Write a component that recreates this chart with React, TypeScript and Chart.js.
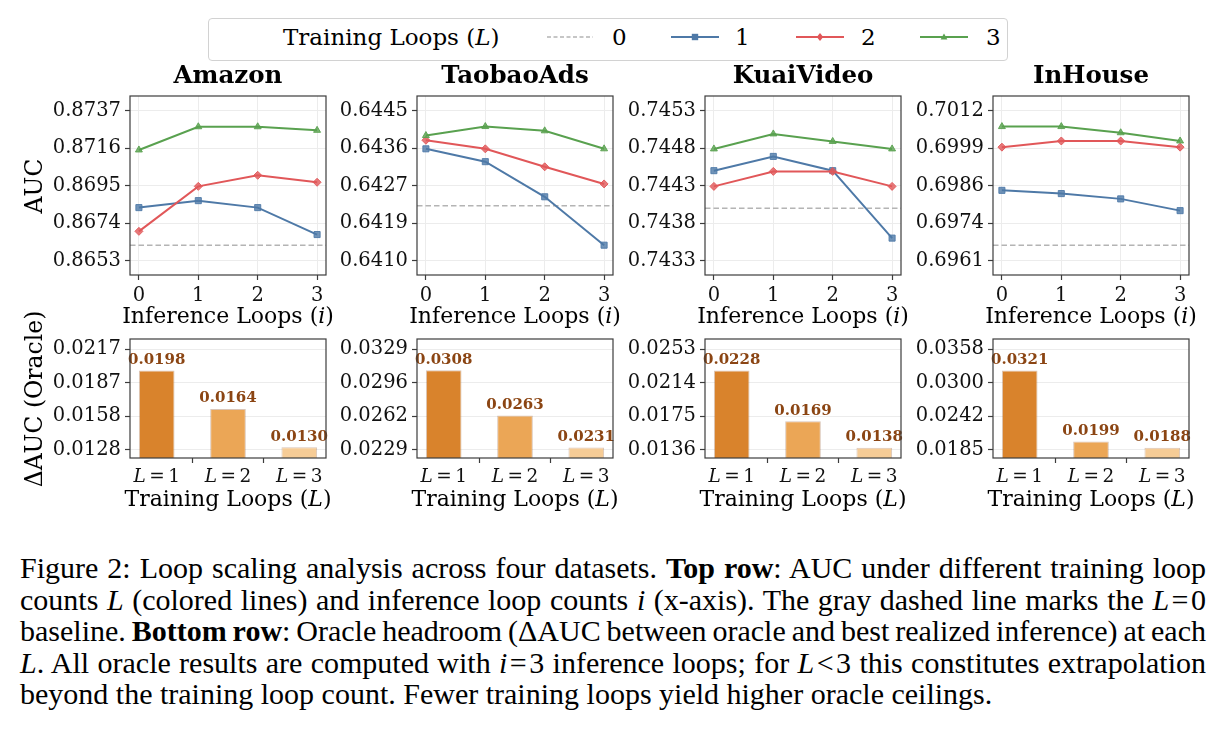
import React, { useEffect, useRef } from "react";
import { Chart, registerables } from "chart.js";

Chart.register(...registerables);

const SERIF = "'DejaVu Serif', serif";
const CAPTION_FONT = "'Liberation Serif', 'Times New Roman', serif";
Chart.defaults.font.family = SERIF;

// ---------------------------------------------------------------- data
const datasetNames = ["Amazon", "TaobaoAds", "KuaiVideo", "InHouse"];
const inferenceLoops = [0, 1, 2, 3];
const trainingLoopLabels = ["1", "2", "3"];

// AUC for inference loops i = 0..3, one array per training-loop count L
const amazonL1 = [0.86827, 0.86866, 0.86827, 0.86676];
const amazonL2 = [0.86694, 0.86946, 0.87008, 0.86969];
const amazonL3 = [0.8715, 0.8728, 0.8728, 0.8726];
const taobaoL1 = [0.64361, 0.64331, 0.64249, 0.64136];
const taobaoL2 = [0.64381, 0.64361, 0.64319, 0.64279];
const taobaoL3 = [0.64392, 0.64413, 0.64403, 0.64361];
const kuaiL1 = [0.7445, 0.74469, 0.7445, 0.7436];
const kuaiL2 = [0.74429, 0.74449, 0.74449, 0.74429];
const kuaiL3 = [0.74479, 0.74499, 0.74489, 0.74479];
const inhouseL1 = [0.69849, 0.69838, 0.6982, 0.6978];
const inhouseL2 = [0.69996, 0.70017, 0.70017, 0.69996];
const inhouseL3 = [0.70066, 0.70066, 0.70045, 0.70017];

// L = 0 baseline AUC per dataset
const baselineAuc = [0.86616, 0.64228, 0.744, 0.69662];

// Oracle headroom (ΔAUC) for L = 1, 2, 3
const amazonOracle = [0.0198, 0.0164, 0.013];
const taobaoOracle = [0.0308, 0.0263, 0.0231];
const kuaiOracle = [0.0228, 0.0169, 0.0138];
const inhouseOracle = [0.0321, 0.0199, 0.0188];

// y tick labels
const amazonAucTicks = ["0.8653", "0.8674", "0.8695", "0.8716", "0.8737"];
const taobaoAucTicks = ["0.6410", "0.6419", "0.6427", "0.6436", "0.6445"];
const kuaiAucTicks = ["0.7433", "0.7438", "0.7443", "0.7448", "0.7453"];
const inhouseAucTicks = ["0.6961", "0.6974", "0.6986", "0.6999", "0.7012"];
const amazonOracleTicks = ["0.0128", "0.0158", "0.0187", "0.0217"];
const taobaoOracleTicks = ["0.0229", "0.0262", "0.0296", "0.0329"];
const kuaiOracleTicks = ["0.0136", "0.0175", "0.0214", "0.0253"];
const inhouseOracleTicks = ["0.0185", "0.0242", "0.0300", "0.0358"];

const aucSeries = [
  [amazonL1, amazonL2, amazonL3],
  [taobaoL1, taobaoL2, taobaoL3],
  [kuaiL1, kuaiL2, kuaiL3],
  [inhouseL1, inhouseL2, inhouseL3],
];
const oracleSeries = [amazonOracle, taobaoOracle, kuaiOracle, inhouseOracle];
const aucTicks = [amazonAucTicks, taobaoAucTicks, kuaiAucTicks, inhouseAucTicks];
const oracleTicks = [amazonOracleTicks, taobaoOracleTicks, kuaiOracleTicks, inhouseOracleTicks];

// ---------------------------------------------------------------- styling
const LINE_COLORS = ["#4e79a7", "#e15759", "#59a14f"];
const LINE_MARKERS = ["rect", "rectRot", "triangle"];
const BAR_COLORS = ["#d9832c", "#eba656", "#f6cc96"];
const BASELINE_COLOR = "#b4b4b4";
const FRAME_COLOR = "#3c3c3c";
const GRID_COLOR = "#ececec";
const LABEL_BROWN = "#8B4513";

const TICK_FONT = 19.5;
const AXIS_LABEL_FONT = 22;
const Y_LABEL_FONT = 23.5;
const TITLE_FONT = 24.5;

// ---------------------------------------------------------------- layout
const PLOT_LEFT = [130, 417, 705, 993];
const PLOT_W = 196;
const TOP_ROW = { top: 96, h: 179, marginLo: 0.096, marginHi: 0.098 };
const BOT_ROW = { top: 339, h: 119, marginLo: 0.084, marginHi: 0.1 };
const AXIS_L = 100;
const AXIS_B = 40;
const PAD_T = 20;
const PAD_R = 24;

function rgba(hex: string, a: number) {
  const n = parseInt(hex.slice(1), 16);
  return `rgba(${(n >> 16) & 255},${(n >> 8) & 255},${n & 255},${a})`;
}

function tickLayout(labels: string[], marginLo: number, marginHi: number) {
  const lo = parseFloat(labels[0]);
  const hi = parseFloat(labels[labels.length - 1]);
  const span = hi - lo;
  const values = labels.map((_, k) => lo + (span * k) / (labels.length - 1));
  return { values, min: lo - span * marginLo, max: hi + span * marginHi };
}

const framePlugin = {
  id: "frame",
  afterDraw(chart: any) {
    const { ctx, chartArea: a } = chart;
    ctx.save();
    ctx.strokeStyle = FRAME_COLOR;
    ctx.lineWidth = 1.2;
    ctx.strokeRect(a.left, a.top, a.right - a.left, a.bottom - a.top);
    ctx.restore();
  },
};

function baselinePlugin(value: number) {
  return {
    id: "baseline",
    beforeDatasetsDraw(chart: any) {
      const { ctx, chartArea: a } = chart;
      const y = chart.scales.y.getPixelForValue(value);
      ctx.save();
      ctx.strokeStyle = BASELINE_COLOR;
      ctx.lineWidth = 1.5;
      ctx.setLineDash([5.5, 3]);
      ctx.beginPath();
      ctx.moveTo(a.left, y);
      ctx.lineTo(a.right, y);
      ctx.stroke();
      ctx.restore();
    },
  };
}

function barValuePlugin(values: number[]) {
  return {
    id: "barValues",
    afterDatasetsDraw(chart: any) {
      const { ctx } = chart;
      const meta = chart.getDatasetMeta(0);
      ctx.save();
      ctx.font = `bold 15px ${SERIF}`;
      ctx.fillStyle = LABEL_BROWN;
      ctx.textAlign = "center";
      ctx.textBaseline = "alphabetic";
      meta.data.forEach((el: any, i: number) => {
        ctx.fillText(values[i].toFixed(4), el.x, el.y - 6.5);
      });
      ctx.restore();
    },
  };
}

// "L = 1" style tick labels with an italic L
const mathTickPlugin = {
  id: "mathTicks",
  afterDraw(chart: any) {
    const { ctx, chartArea: a } = chart;
    const xs = chart.scales.x;
    const size = 18.5;
    const gap = 3.5;
    ctx.save();
    ctx.fillStyle = "#111";
    ctx.textBaseline = "alphabetic";
    ctx.textAlign = "left";
    trainingLoopLabels.forEach((lab, k) => {
      const cx = xs.getPixelForValue(k);
      ctx.font = `italic ${size}px ${SERIF}`;
      const wL = ctx.measureText("L").width;
      ctx.font = `${size}px ${SERIF}`;
      const wEq = ctx.measureText("=").width;
      const wN = ctx.measureText(lab).width;
      let x = cx - (wL + gap + wEq + gap + wN) / 2;
      const y = a.bottom + 24;
      ctx.font = `italic ${size}px ${SERIF}`;
      ctx.fillText("L", x, y);
      x += wL + gap;
      ctx.font = `${size}px ${SERIF}`;
      ctx.fillText("=", x, y);
      x += wEq + gap;
      ctx.fillText(lab, x, y);
    });
    ctx.restore();
  },
};

function yScale(labels: string[], row: typeof TOP_ROW) {
  const t = tickLayout(labels, row.marginLo, row.marginHi);
  return {
    type: "linear" as const,
    min: t.min,
    max: t.max,
    afterBuildTicks: (s: any) => {
      s.ticks = t.values.map((v) => ({ value: v }));
    },
    afterFit: (s: any) => {
      s.width = AXIS_L;
    },
    border: { display: false },
    grid: { color: GRID_COLOR, lineWidth: 1, tickColor: FRAME_COLOR, tickLength: 5, tickWidth: 1.2 },
    ticks: {
      color: "#111",
      font: { size: TICK_FONT, family: SERIF },
      padding: 4,
      callback: (_v: any, i: number) => labels[i],
    },
  };
}

function lineConfig(idx: number): any {
  const series = aucSeries[idx];
  return {
    type: "line",
    data: {
      datasets: series.map((vals, s) => ({
        label: String(s + 1),
        data: vals.map((y, k) => ({ x: inferenceLoops[k], y })),
        borderColor: LINE_COLORS[s],
        backgroundColor: LINE_COLORS[s],
        borderWidth: 2,
        pointStyle: LINE_MARKERS[s],
        pointRadius: s === 0 ? 4.3 : 4,
        pointBackgroundColor: rgba(LINE_COLORS[s], 0.8),
        pointBorderColor: rgba(LINE_COLORS[s], 0.9),
        pointBorderWidth: 1,
        tension: 0,
        order: 3 - s,
      })),
    },
    options: {
      animation: false,
      responsive: false,
      maintainAspectRatio: false,
      events: [],
      layout: { padding: { top: PAD_T, right: PAD_R, left: 0, bottom: 0 } },
      plugins: { legend: { display: false }, tooltip: { enabled: false }, title: { display: false } },
      scales: {
        x: {
          type: "linear",
          min: -0.15,
          max: 3.15,
          afterBuildTicks: (s: any) => {
            s.ticks = inferenceLoops.map((v) => ({ value: v }));
          },
          afterFit: (s: any) => {
            s.height = AXIS_B;
          },
          border: { display: false },
          grid: { color: GRID_COLOR, lineWidth: 1, tickColor: FRAME_COLOR, tickLength: 5, tickWidth: 1.2 },
          ticks: {
            color: "#111",
            font: { size: TICK_FONT, family: SERIF },
            padding: 4,
            maxRotation: 0,
            autoSkip: false,
            callback: (v: any) => String(v),
          },
        },
        y: yScale(aucTicks[idx], TOP_ROW),
      },
    },
    plugins: [framePlugin, baselinePlugin(baselineAuc[idx])],
  };
}

function barConfig(idx: number): any {
  const values = oracleSeries[idx];
  return {
    type: "bar",
    data: {
      datasets: [
        {
          data: values.map((y, k) => ({ x: k, y })),
          backgroundColor: BAR_COLORS,
          borderColor: "rgba(150,90,45,0.35)",
          borderWidth: 1,
          categoryPercentage: 1,
          barPercentage: 0.5,
        },
      ],
    },
    options: {
      animation: false,
      responsive: false,
      maintainAspectRatio: false,
      events: [],
      layout: { padding: { top: PAD_T, right: PAD_R, left: 0, bottom: 0 } },
      plugins: { legend: { display: false }, tooltip: { enabled: false }, title: { display: false } },
      scales: {
        x: {
          type: "linear",
          offset: false,
          min: -0.375,
          max: 2.375,
          afterBuildTicks: (s: any) => {
            s.ticks = trainingLoopLabels.map((_, k) => ({ value: k }));
          },
          afterFit: (s: any) => {
            s.height = AXIS_B;
          },
          border: { display: false },
          grid: { drawOnChartArea: false, tickColor: FRAME_COLOR, tickLength: 5, tickWidth: 1.2 },
          ticks: { callback: () => "", autoSkip: false, maxRotation: 0 },
        },
        y: yScale(oracleTicks[idx], BOT_ROW),
      },
    },
    plugins: [framePlugin, barValuePlugin(values), mathTickPlugin],
  };
}

function Panel({ idx, kind }: { idx: number; kind: "line" | "bar" }) {
  const ref = useRef<HTMLCanvasElement>(null);
  const row = kind === "line" ? TOP_ROW : BOT_ROW;
  const left = PLOT_LEFT[idx] - AXIS_L;
  const top = row.top - PAD_T;
  const w = AXIS_L + PLOT_W + PAD_R;
  const h = PAD_T + row.h + AXIS_B;
  useEffect(() => {
    const chart = new Chart(ref.current as HTMLCanvasElement, kind === "line" ? lineConfig(idx) : barConfig(idx));
    return () => chart.destroy();
  }, [idx, kind]);
  return (
    <canvas
      ref={ref}
      width={w}
      height={h}
      style={{ position: "absolute", left, top, width: w, height: h }}
    />
  );
}

function Label({
  x,
  y,
  size,
  bold,
  rotate,
  children,
}: {
  x: number;
  y: number;
  size: number;
  bold?: boolean;
  rotate?: boolean;
  children: React.ReactNode;
}) {
  return (
    <div
      style={{
        position: "absolute",
        left: x,
        top: y,
        transform: `translate(-50%, -50%)${rotate ? " rotate(-90deg)" : ""}`,
        fontFamily: SERIF,
        fontSize: size,
        fontWeight: bold ? "bold" : "normal",
        lineHeight: 1,
        whiteSpace: "nowrap",
        color: "#000",
      }}
    >
      {children}
    </div>
  );
}

function LegendMarker({ kind, x, y, color }: { kind: string; x: number; y: number; color: string }) {
  if (kind === "rect") return <rect x={x - 3.2} y={y - 3.2} width={6.4} height={6.4} fill={color} />;
  if (kind === "rectRot")
    return <polygon points={`${x},${y - 4} ${x + 3.2},${y} ${x},${y + 4} ${x - 3.2},${y}`} fill={color} />;
  return <polygon points={`${x},${y - 3.6} ${x + 3.4},${y + 2.6} ${x - 3.4},${y + 2.6}`} fill={color} />;
}

function Legend() {
  const box = { left: 208, top: 18, width: 800, height: 43 };
  const cy = 37 - box.top;
  const entries = [
    { label: "0", x0: 547, x1: 593, color: BASELINE_COLOR, dashed: true, marker: "", textX: 612 },
    { label: "1", x0: 671, x1: 719, color: LINE_COLORS[0], dashed: false, marker: LINE_MARKERS[0], textX: 735 },
    { label: "2", x0: 796, x1: 844, color: LINE_COLORS[1], dashed: false, marker: LINE_MARKERS[1], textX: 861 },
    { label: "3", x0: 920, x1: 968, color: LINE_COLORS[2], dashed: false, marker: LINE_MARKERS[2], textX: 986 },
  ];
  return (
    <div
      style={{
        position: "absolute",
        left: box.left,
        top: box.top,
        width: box.width,
        height: box.height,
        border: "1px solid #d2d2d2",
        borderRadius: 4,
        boxSizing: "border-box",
        background: "#fff",
      }}
    >
      <svg width={box.width} height={box.height} style={{ position: "absolute", left: -1, top: -1 }}>
        {entries.map((e) => (
          <g key={e.label}>
            <line
              x1={e.x0 - box.left}
              x2={e.x1 - box.left}
              y1={cy}
              y2={cy}
              stroke={e.color}
              strokeWidth={e.dashed ? 1.4 : 2}
              strokeDasharray={e.dashed ? "4 2.5" : undefined}
            />
            {e.marker && <LegendMarker kind={e.marker} x={(e.x0 + e.x1) / 2 - box.left} y={cy} color={e.color} />}
          </g>
        ))}
      </svg>
      <div
        style={{
          position: "absolute",
          left: 283 - box.left - 1,
          top: cy - 1,
          transform: "translateY(-50%)",
          fontFamily: SERIF,
          fontSize: 23,
          lineHeight: 1,
          whiteSpace: "nowrap",
        }}
      >
        Training Loops (<i>L</i>)
      </div>
      {entries.map((e) => (
        <div
          key={e.label}
          style={{
            position: "absolute",
            left: e.textX - box.left - 1,
            top: cy - 1,
            transform: "translateY(-50%)",
            fontFamily: SERIF,
            fontSize: 23,
            lineHeight: 1,
          }}
        >
          {e.label}
        </div>
      ))}
    </div>
  );
}

const M = ({ children }: { children: React.ReactNode }) => (
  <span style={{ display: "inline-block" }}>{children}</span>
);

function Caption() {
  const lines: React.ReactNode[] = [
    <>
      Figure 2: Loop scaling analysis across four datasets. <b>Top row</b>: AUC under different training loop
    </>,
    <>
      counts <i>L</i> (colored lines) and inference loop counts <i>i</i> (x-axis). The gray dashed line marks the{" "}
      <M>
        <i>L</i>&#8202;=&#8202;0
      </M>
    </>,
    <>
      baseline. <b>Bottom row</b>: Oracle headroom (ΔAUC between oracle and best realized inference) at each
    </>,
    <>
      <i>L</i>. All oracle results are computed with{" "}
      <M>
        <i>i</i>&#8202;=&#8202;3
      </M>{" "}
      inference loops; for{" "}
      <M>
        <i>L</i>&#8202;&lt;&#8202;3
      </M>{" "}
      this constitutes extrapolation
    </>,
    <>beyond the training loop count. Fewer training loops yield higher oracle ceilings.</>,
  ];
  return (
    <div
      style={{
        position: "absolute",
        left: 20,
        top: 552,
        width: 1186,
        fontFamily: CAPTION_FONT,
        fontSize: 30,
        lineHeight: "31.5px",
        color: "#000",
      }}
    >
      {lines.map((ln, k) => {
        const justified = k < lines.length - 1;
        return (
          <div
            key={k}
            style={{
              textAlign: justified ? "justify" : "left",
              textAlignLast: justified ? "justify" : "left",
              wordSpacing: justified ? "-4px" : "normal",
            }}
          >
            {ln}
          </div>
        );
      })}
    </div>
  );
}

export default function App() {
  return (
    <div
      style={{
        position: "absolute",
        left: 0,
        top: 0,
        width: 1222,
        height: 730,
        background: "#fff",
        overflow: "hidden",
      }}
    >
      {datasetNames.map((name, i) => (
        <React.Fragment key={name}>
          <Panel idx={i} kind="line" />
          <Panel idx={i} kind="bar" />
          <Label x={PLOT_LEFT[i] + PLOT_W / 2} y={75} size={TITLE_FONT} bold>
            {name}
          </Label>
          <Label x={PLOT_LEFT[i] + PLOT_W / 2} y={316} size={AXIS_LABEL_FONT}>
            Inference Loops (<i>i</i>)
          </Label>
          <Label x={PLOT_LEFT[i] + PLOT_W / 2} y={499} size={AXIS_LABEL_FONT}>
            Training Loops (<i>L</i>)
          </Label>
        </React.Fragment>
      ))}
      <Label x={35} y={TOP_ROW.top + TOP_ROW.h / 2} size={Y_LABEL_FONT} rotate>
        AUC
      </Label>
      <Label x={35} y={BOT_ROW.top + BOT_ROW.h / 2} size={Y_LABEL_FONT} rotate>
        ΔAUC (Oracle)
      </Label>
      <Legend />
      <Caption />
    </div>
  );
}
